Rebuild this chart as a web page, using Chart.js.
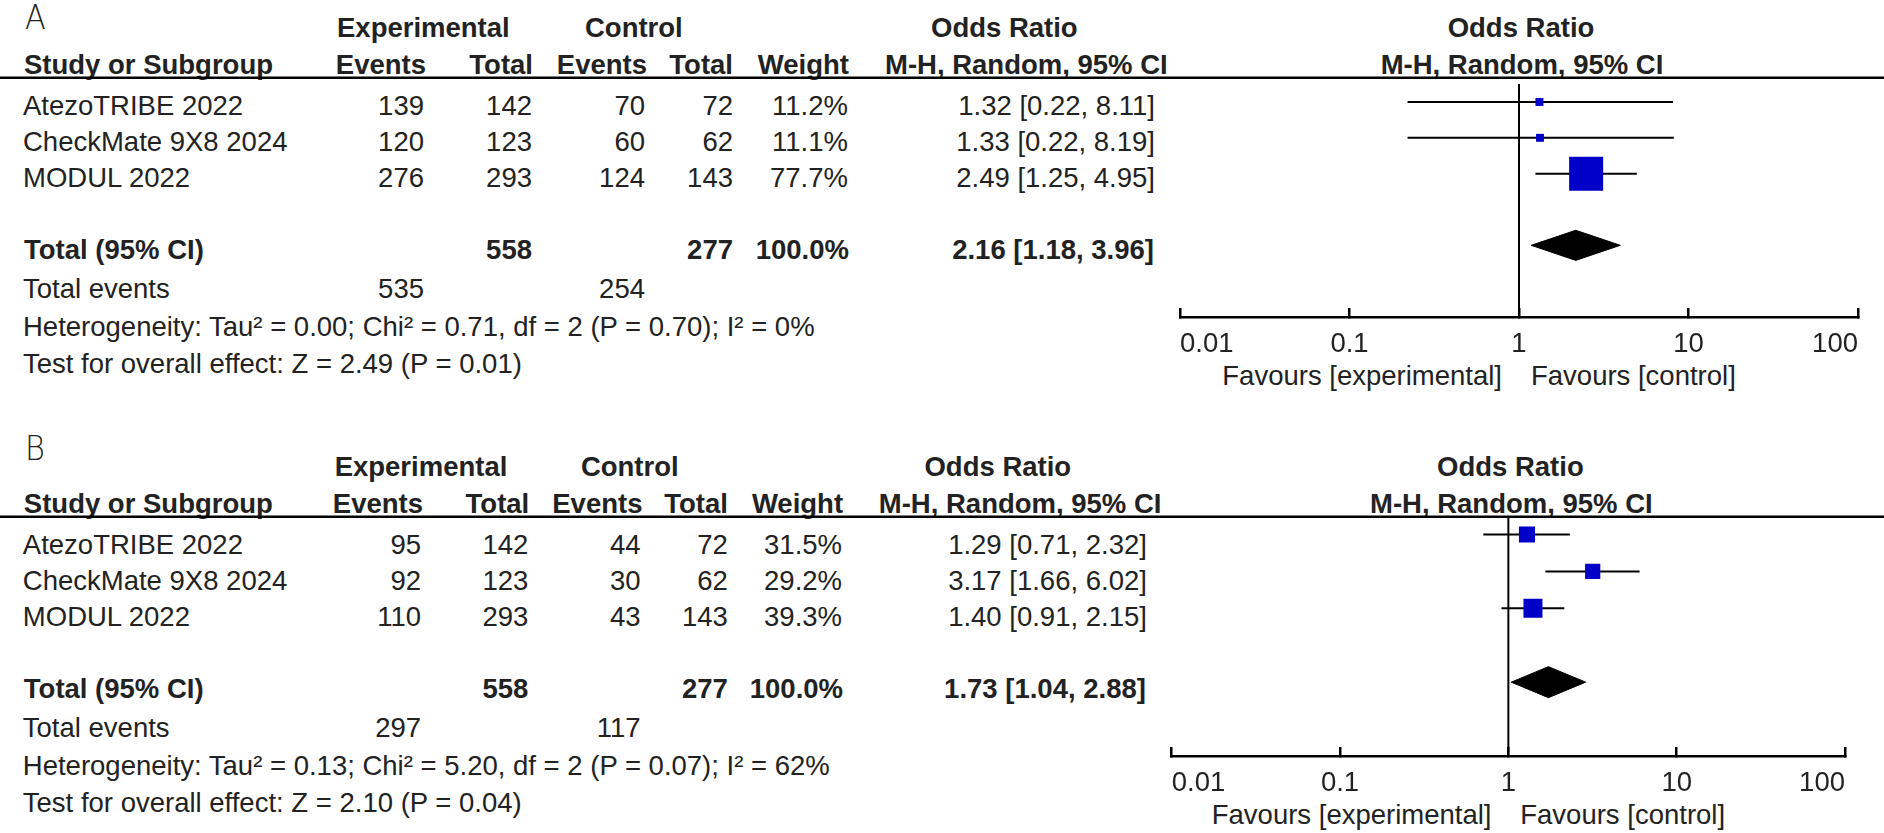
<!DOCTYPE html>
<html>
<head>
<meta charset="utf-8">
<script src="https://cdn.jsdelivr.net/npm/chart.js@4.4.1/dist/chart.umd.min.js"></script>
<style>
  html, body { margin: 0; padding: 0; background: #fff; }
  #page { position: relative; width: 1884px; height: 833px; overflow: hidden; }
  #txt { position: absolute; left: 0; top: 0; }
  canvas { position: absolute; }
</style>
</head>
<body>
<div id="page">
  <svg id="txt" width="1884" height="833"></svg>
  <canvas id="plotA"></canvas>
  <canvas id="plotB"></canvas>
</div>
<script>
// same three trials in both panels
const studies = ['AtezoTRIBE 2022', 'CheckMate 9X8 2024', 'MODUL 2022'];

// panel A
const expEventsA = [139, 120, 276];
const expTotalA = [142, 123, 293];
const ctrlEventsA = [70, 60, 124];
const ctrlTotalA = [72, 62, 143];
const weightA = [11.2, 11.1, 77.7];
const orA = [1.32, 1.33, 2.49];
const lowA = [0.22, 0.22, 1.25];
const highA = [8.11, 8.19, 4.95];
const pooledA = [2.16, 1.18, 3.96];     // estimate, low, high
const totalsA = [558, 277];              // experimental, control
const totalEventsA = [535, 254];
const hetA = 'Heterogeneity: Tau² = 0.00; Chi² = 0.71, df = 2 (P = 0.70); I² = 0%';
const testA = 'Test for overall effect: Z = 2.49 (P = 0.01)';

// panel B
const expEventsB = [95, 92, 110];
const expTotalB = [142, 123, 293];
const ctrlEventsB = [44, 30, 43];
const ctrlTotalB = [72, 62, 143];
const weightB = [31.5, 29.2, 39.3];
const orB = [1.29, 3.17, 1.40];
const lowB = [0.71, 1.66, 0.91];
const highB = [2.32, 6.02, 2.15];
const pooledB = [1.73, 1.04, 2.88];
const totalsB = [558, 277];
const totalEventsB = [297, 117];
const hetB = 'Heterogeneity: Tau² = 0.13; Chi² = 5.20, df = 2 (P = 0.07); I² = 62%';
const testB = 'Test for overall effect: Z = 2.10 (P = 0.04)';

const axisTicks = [0.01, 0.1, 1, 10, 100];
const axisLabels = ['0.01', '0.1', '1', '10', '100'];
const favours = ['Favours [experimental]', 'Favours [control]'];

const panels = [
  { letter: 'A', canvas: 'plotA', sx: 1, dy: 0, letterY: 29, boxScale: 1.30,
    expEvents: expEventsA, expTotal: expTotalA, ctrlEvents: ctrlEventsA, ctrlTotal: ctrlTotalA,
    weight: weightA, or: orA, low: lowA, high: highA, pooled: pooledA,
    totals: totalsA, totalEvents: totalEventsA, het: hetA, test: testA },
  { letter: 'B', canvas: 'plotB', sx: 0.993, dy: 439, letterY: 460, boxScale: 1.21,
    expEvents: expEventsB, expTotal: expTotalB, ctrlEvents: ctrlEventsB, ctrlTotal: ctrlTotalB,
    weight: weightB, or: orB, low: lowB, high: highB, pooled: pooledB,
    totals: totalsB, totalEvents: totalEventsB, het: hetB, test: testB }
];

const svg = document.getElementById('txt');
const NS = 'http://www.w3.org/2000/svg';
const FONT = "'Liberation Sans', Arial, sans-serif";
const INK = '#222';
const SIZE = 27.5;

function txt(s, x, y, anchor, bold) {
  const t = document.createElementNS(NS, 'text');
  t.setAttribute('x', x);
  t.setAttribute('y', y);
  t.setAttribute('text-anchor', anchor || 'start');
  t.setAttribute('font-family', FONT);
  t.setAttribute('font-size', SIZE);
  t.setAttribute('fill', INK);
  if (bold) t.setAttribute('font-weight', 'bold');
  t.textContent = s;
  svg.appendChild(t);
  return t;
}

function rule(y) {
  const r = document.createElementNS(NS, 'rect');
  r.setAttribute('x', 0);
  r.setAttribute('y', y);
  r.setAttribute('width', 1884);
  r.setAttribute('height', 2.5);
  r.setAttribute('fill', '#000');
  svg.appendChild(r);
}

const fmt2 = v => v.toFixed(2);
const ciText = (e, l, h) => fmt2(e) + ' [' + fmt2(l) + ', ' + fmt2(h) + ']';

function drawTable(p) {
  const X = x => x * p.sx;
  const Y = y => y + p.dy;

  const L = txt(p.letter, 0, 0, 'start', false);
  L.setAttribute('font-family', "'DejaVu Sans', sans-serif");
  L.setAttribute('font-weight', '200');
  L.setAttribute('font-size', 33);
  L.setAttribute('transform', 'translate(25,' + p.letterY + ') scale(0.92,1)');

  // headers
  txt('Experimental', X(337), Y(37), 'start', true);
  txt('Control', X(585), Y(37), 'start', true);
  txt('Odds Ratio', X(931), Y(37), 'start', true);
  txt('Odds Ratio', X(1521), Y(37), 'middle', true);
  txt('Study or Subgroup', X(24), Y(74), 'start', true);
  txt('Events', X(426), Y(74), 'end', true);
  txt('Total', X(533), Y(74), 'end', true);
  txt('Events', X(647), Y(74), 'end', true);
  txt('Total', X(733), Y(74), 'end', true);
  txt('Weight', X(849), Y(74), 'end', true);
  txt('M-H, Random, 95% CI', X(885), Y(74), 'start', true);
  txt('M-H, Random, 95% CI', X(1522), Y(74), 'middle', true);
  rule(Y(76.5));

  // study rows
  const rowBase = [115, 151, 187];
  studies.forEach((s, i) => {
    const y = Y(rowBase[i]);
    txt(s, X(23), y, 'start', false);
    txt(String(p.expEvents[i]), X(424), y, 'end', false);
    txt(String(p.expTotal[i]), X(532), y, 'end', false);
    txt(String(p.ctrlEvents[i]), X(645), y, 'end', false);
    txt(String(p.ctrlTotal[i]), X(733), y, 'end', false);
    txt(p.weight[i].toFixed(1) + '%', X(848), y, 'end', false);
    txt(ciText(p.or[i], p.low[i], p.high[i]), X(1155), y, 'end', false);
  });

  // totals
  const wSum = p.weight.reduce((a, b) => a + b, 0);
  txt('Total (95% CI)', X(24), Y(259), 'start', true);
  txt(String(p.totals[0]), X(532), Y(259), 'end', true);
  txt(String(p.totals[1]), X(733), Y(259), 'end', true);
  txt(wSum.toFixed(1) + '%', X(849), Y(259), 'end', true);
  txt(ciText(p.pooled[0], p.pooled[1], p.pooled[2]), X(1154), Y(259), 'end', true);

  txt('Total events', X(23), Y(298), 'start', false);
  txt(String(p.totalEvents[0]), X(424), Y(298), 'end', false);
  txt(String(p.totalEvents[1]), X(645), Y(298), 'end', false);
  txt(p.het, X(23), Y(336), 'start', false);
  txt(p.test, X(23), Y(373), 'start', false);

  // favours labels under the axis
  txt(favours[0], X(1502), Y(385), 'end', false);
  txt(favours[1], X(1531), Y(385), 'start', false);
}

function drawPlot(p) {
  const cv = document.getElementById(p.canvas);
  cv.width = 744;
  cv.height = 317;
  cv.style.left = '1140px';
  cv.style.top = (60 + p.dy) + 'px';

  const totalRow = 5;
  const diamondHalf = 0.42;

  const boxes = {
    data: p.or.map((v, i) => ({ x: v, y: i + 1 })),
    pointStyle: 'rect',
    pointRadius: p.weight.map(w => p.boxScale * Math.pow(w, 0.75) / Math.SQRT2),
    backgroundColor: '#0000C8',
    borderWidth: 0,
    pointBorderWidth: 0,
    showLine: false
  };
  const whiskers = p.or.map((v, i) => ({
    data: [{ x: p.low[i], y: i + 1 }, { x: p.high[i], y: i + 1 }],
    showLine: true,
    borderColor: '#000',
    borderWidth: 2,
    pointRadius: 0
  }));
  const diamond = {
    data: [
      { x: p.pooled[1], y: totalRow },
      { x: p.pooled[0], y: totalRow - diamondHalf },
      { x: p.pooled[2], y: totalRow },
      { x: p.pooled[0], y: totalRow + diamondHalf },
      { x: p.pooled[1], y: totalRow }
    ],
    showLine: true,
    fill: 'shape',
    backgroundColor: '#000',
    borderColor: '#000',
    borderWidth: 1,
    pointRadius: 0
  };
  const noEffect = {
    data: [{ x: 1, y: 0.5 }, { x: 1, y: 7 }],
    showLine: true,
    borderColor: '#000',
    borderWidth: 2,
    pointRadius: 0
  };

  new Chart(cv.getContext('2d'), {
    type: 'scatter',
    data: { datasets: [boxes].concat(whiskers, [diamond, noEffect]) },
    options: {
      responsive: false,
      animation: false,
      devicePixelRatio: 1,
      layout: {
        padding: { left: 1180 * p.sx - 1140, right: 1884 - 1858 * p.sx, top: 17, bottom: 0 }
      },
      plugins: { legend: { display: false }, tooltip: { enabled: false } },
      scales: {
        x: {
          type: 'logarithmic',
          min: 0.01,
          max: 100,
          afterBuildTicks: s => { s.ticks = axisTicks.map(v => ({ value: v })); },
          afterFit: s => { s.height = 60; },
          grid: { drawOnChartArea: false, drawTicks: true, tickLength: -9, color: '#000', lineWidth: 2.5 },
          border: { display: true, color: '#000', width: 2.5 },
          ticks: {
            align: 'inner',
            padding: 20,
            autoSkip: false,
            maxRotation: 0,
            color: INK,
            font: { family: 'Liberation Sans', size: 27.5 },
            callback: (v, i) => axisLabels[i]
          }
        },
        y: { type: 'linear', display: false, min: 0.5, max: 7, reverse: true }
      }
    }
  });
}

panels.forEach(p => { drawTable(p); drawPlot(p); });
</script>
</body>
</html>
